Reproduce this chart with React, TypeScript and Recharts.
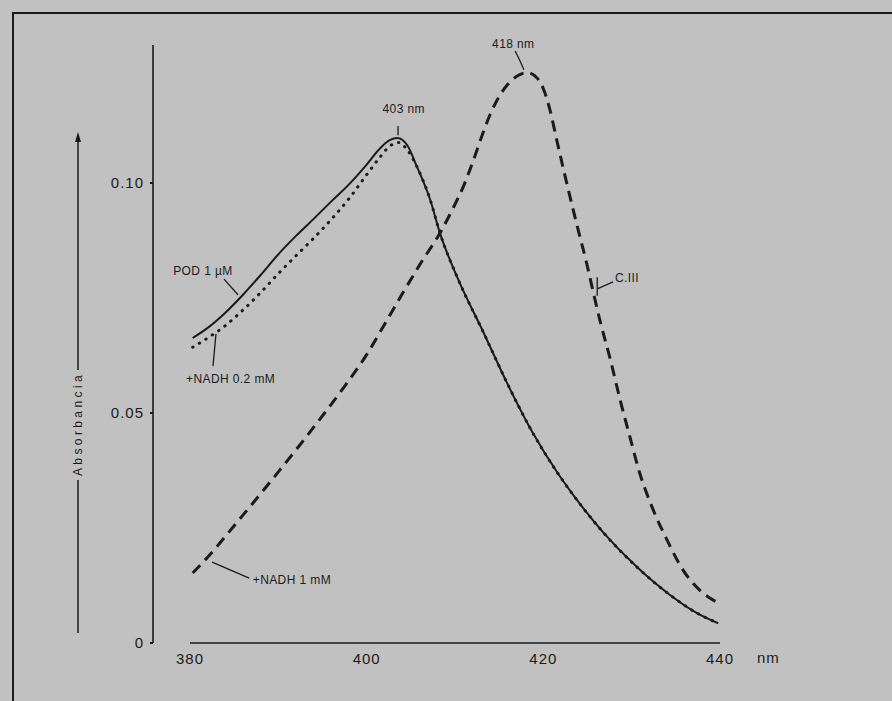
import React from 'react';
import { LineChart, Line, XAxis, YAxis, ReferenceLine, ReferenceDot } from 'recharts';

// wavelength (nm) / absorbance readings for each trace
const podNm = [380.3, 382, 384, 386, 388, 390, 392, 394, 396, 398, 400, 401.5, 402.6, 403.5, 404.6, 405.7, 407.2, 408.3, 410.3, 413.2, 415.9, 418.8, 421.6, 423.8, 426.8, 430.6, 434.3, 437.4, 439.8];
const podAbs = [0.0663, 0.0685, 0.0718, 0.0757, 0.08, 0.0845, 0.0885, 0.0922, 0.096, 0.0997, 0.104, 0.1075, 0.1093, 0.1098, 0.1082, 0.1035, 0.0963, 0.0891, 0.0793, 0.0676, 0.0565, 0.0457, 0.037, 0.0311, 0.024, 0.0165, 0.0105, 0.0065, 0.0043];

const nadh02Nm = [380.3, 382, 384, 386, 388, 390, 392, 394, 396, 398, 400, 401.5, 402.6, 403.6, 404.6, 405.7, 407.2, 408.3, 410.3, 413.2, 415.9, 418.8, 421.6, 423.8, 426.8, 430.6, 434.3, 437.4, 439.8];
const nadh02Abs = [0.0643, 0.0663, 0.069, 0.0724, 0.0762, 0.0803, 0.0842, 0.088, 0.0921, 0.0966, 0.1018, 0.1056, 0.108, 0.1088, 0.1072, 0.1035, 0.0963, 0.0891, 0.0793, 0.0676, 0.0565, 0.0457, 0.037, 0.0311, 0.024, 0.0165, 0.0105, 0.0065, 0.0043];

const nadh1Nm = [380.3, 382.3, 385, 387.5, 390, 392.5, 395, 397.5, 400, 402, 404, 406, 408.5, 409.8, 411, 412, 413, 414, 415, 416, 417, 418.2, 419.3, 420, 420.8, 421.5, 422.3, 423.8, 424.9, 425.6, 426.4, 427.6, 428.7, 429.8, 430.9, 432.3, 434, 435.8, 437.7, 439.8];
const nadh1Abs = [0.0152, 0.0193, 0.0255, 0.0313, 0.0372, 0.0432, 0.0494, 0.0558, 0.0627, 0.0692, 0.0758, 0.0822, 0.0898, 0.0946, 0.0995, 0.1045, 0.11, 0.115, 0.1188, 0.1215, 0.1232, 0.124, 0.1228, 0.1205, 0.1155, 0.1095, 0.1028, 0.0909, 0.0826, 0.0767, 0.0702, 0.0615, 0.0528, 0.0448, 0.037, 0.0296, 0.0224, 0.0159, 0.0115, 0.0087];

const xTicks = [380, 400, 420, 440];
const yTicks = [0, 0.05, 0.1];

const toRows = (nm: number[], abs: number[]) => nm.map((x, i) => ({ nm: x, abs: abs[i] }));
const podData = toRows(podNm, podAbs);
const nadh02Data = toRows(nadh02Nm, nadh02Abs);
const nadh1Data = toRows(nadh1Nm, nadh1Abs);

const INK = '#1b1b1b';
const FONT = '"Liberation Sans", Arial, Helvetica, sans-serif';
const BG = '#c1c1c1';

// text annotations, in data coordinates
const notes: { x: number; y: number; text: string; anchor: 'start' | 'middle' }[] = [
  { x: 404.2, y: 0.1161, text: '403 nm', anchor: 'middle' },
  { x: 416.6, y: 0.1302, text: '418 nm', anchor: 'middle' },
  { x: 428.1, y: 0.0793, text: 'C.III', anchor: 'start' },
  { x: 378.1, y: 0.0809, text: 'POD 1 \u00b5M', anchor: 'start' },
  { x: 379.55, y: 0.0574, text: '+NADH 0.2 mM', anchor: 'start' },
  { x: 387.1, y: 0.0137, text: '+NADH 1 mM', anchor: 'start' },
];

// leader lines from labels to curves
const leaders: [number, number, number, number][] = [
  [403.55, 0.1124, 403.55, 0.1104],
  [416.8, 0.1287, 417.25, 0.127],
  [417.25, 0.127, 417.8, 0.1246],
  [427.9, 0.0785, 426.1, 0.077],
  [426.1, 0.0795, 426.1, 0.0755],
  [383.85, 0.0791, 385.43, 0.0757],
  [382.6, 0.0602, 382.94, 0.0672],
  [386.7, 0.0141, 382.5, 0.0176],
];

const noteShape = (text: string, anchor: 'start' | 'middle') => (p: any) => (
  <text
    x={p.cx}
    y={p.cy}
    textAnchor={anchor}
    dominantBaseline="central"
    fontSize={12}
    fontFamily={FONT}
    fill={INK}
    letterSpacing={0.4}
  >
    {text}
  </text>
);

const AbsLabel = (props: any) => {
  const { x, y, height } = props.viewBox;
  const cx = x + 18;
  const mid = y + 379;
  return (
    <g>
      <line x1={cx} y1={y + 90} x2={cx} y2={mid - 54} stroke={INK} strokeWidth={1.5} />
      <path d={`M${cx - 3},${y + 97} L${cx},${y + 87} L${cx + 3},${y + 97} Z`} fill={INK} />
      <text
        x={cx}
        y={mid}
        transform={`rotate(-90 ${cx} ${mid})`}
        textAnchor="middle"
        dominantBaseline="central"
        fontSize={12}
        fontFamily={FONT}
        fill={INK}
        letterSpacing={3.4}
      >
        Absorbancia
      </text>
      <line x1={cx} y1={mid + 56} x2={cx} y2={y + height - 10} stroke={INK} strokeWidth={1.5} />
    </g>
  );
};

export default function App() {
  return (
    <div style={{ position: 'absolute', left: 0, top: 0, width: 892, height: 701, background: BG, overflow: 'hidden' }}>
      <div
        style={{
          position: 'absolute',
          left: 12,
          top: 12,
          right: -4,
          bottom: -4,
          borderTop: `2px solid ${INK}`,
          borderLeft: `2px solid ${INK}`,
        }}
      />
      <LineChart width={892} height={701} margin={{ top: 45, right: 172, bottom: 28, left: 60 }} style={{ position: 'absolute', left: 0, top: 0 }}>
        <XAxis
          dataKey="nm"
          type="number"
          domain={[375.81, 440]}
          ticks={xTicks}
          allowDataOverflow
          axisLine={false}
          tickLine={false}
          tickMargin={4}
          height={30}
          tick={{ fontSize: 15, fill: INK, fontFamily: FONT, letterSpacing: 1 }}
          label={{ value: 'nm', position: 'right', offset: 37, fontSize: 15, fill: INK, fontFamily: FONT, letterSpacing: 1 }}
        />
        <YAxis
          type="number"
          domain={[0, 0.13]}
          ticks={yTicks}
          allowDataOverflow
          width={93}
          axisLine={{ stroke: INK, strokeWidth: 1.6 }}
          tickLine={{ stroke: INK, strokeWidth: 2 }}
          tickSize={3}
          tickMargin={6}
          tickFormatter={(v: number) => (v === 0 ? '0' : v.toFixed(2))}
          tick={{ fontSize: 15, fill: INK, fontFamily: FONT, letterSpacing: 1 }}
          label={{ content: (p: any) => <AbsLabel {...p} /> }}
        />
        <ReferenceLine
          segment={[{ x: 380, y: 0 }, { x: 440, y: 0 }]}
          stroke={INK}
          strokeWidth={1.6}
          ifOverflow="visible"
        />
        <Line
          data={nadh1Data}
          dataKey="abs"
          type="monotone"
          stroke={INK}
          strokeWidth={3}
          strokeDasharray="11 7"
          dot={false}
          isAnimationActive={false}
        />
        <Line
          data={nadh02Data}
          dataKey="abs"
          type="monotone"
          stroke={INK}
          strokeWidth={3}
          strokeLinecap="round"
          strokeDasharray="0.5 7.2"
          dot={false}
          isAnimationActive={false}
        />
        <Line
          data={podData}
          dataKey="abs"
          type="monotone"
          stroke={INK}
          strokeWidth={2}
          dot={false}
          isAnimationActive={false}
        />
        {leaders.map(([x1, y1, x2, y2], i) => (
          <ReferenceLine
            key={`l${i}`}
            segment={[{ x: x1, y: y1 }, { x: x2, y: y2 }]}
            stroke={INK}
            strokeWidth={1.3}
            ifOverflow="visible"
          />
        ))}
        {notes.map((n, i) => (
          <ReferenceDot key={`n${i}`} x={n.x} y={n.y} r={0} ifOverflow="visible" shape={noteShape(n.text, n.anchor)} />
        ))}
      </LineChart>
    </div>
  );
}
